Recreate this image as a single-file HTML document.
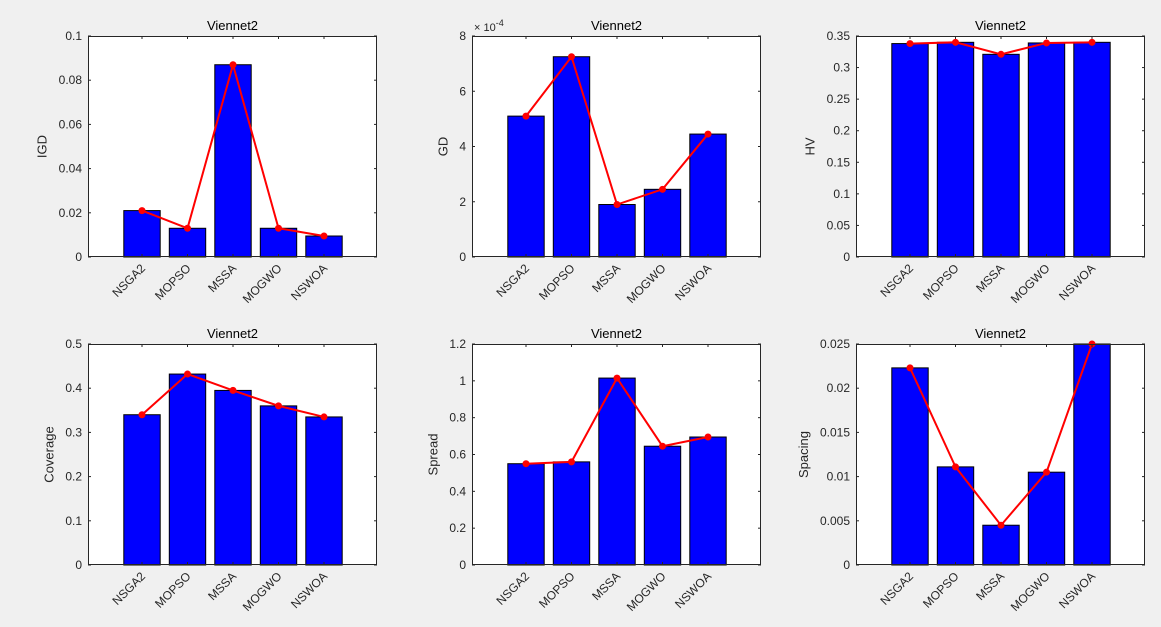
<!DOCTYPE html>
<html><head><meta charset="utf-8"><style>
body{margin:0;background:#f0f0f0;width:1161px;height:627px;overflow:hidden;font-family:"Liberation Sans",Arial,sans-serif}
svg{position:absolute;left:0;top:0}
</style></head><body>
<svg id="chart" width="1161" height="627"></svg>
<script>
const categories=["NSGA2","MOPSO","MSSA","MOGWO","NSWOA"];
const igdValues=[0.021,0.013,0.087,0.013,0.0095];
const gdValues=[5.1,7.25,1.9,2.45,4.45];
const hvValues=[0.338,0.340,0.321,0.339,0.340];
const coverageValues=[0.34,0.432,0.395,0.36,0.335];
const spreadValues=[0.55,0.56,1.015,0.645,0.695];
const spacingValues=[0.0223,0.0111,0.0045,0.0105,0.025];
const igdTicks=["0","0.02","0.04","0.06","0.08","0.1"];
const gdTicks=["0","2","4","6","8"];
const hvTicks=["0","0.05","0.1","0.15","0.2","0.25","0.3","0.35"];
const coverageTicks=["0","0.1","0.2","0.3","0.4","0.5"];
const spreadTicks=["0","0.2","0.4","0.6","0.8","1","1.2"];
const spacingTicks=["0","0.005","0.01","0.015","0.02","0.025"];
const panels=[
 {name:"igd",x:88,y:36,label:"IGD",vals:igdValues,ticks:igdTicks,max:0.1},
 {name:"gd",x:472,y:36,label:"GD",vals:gdValues,ticks:gdTicks,max:8,exp:true},
 {name:"hv",x:856,y:36,label:"HV",vals:hvValues,ticks:hvTicks,max:0.35},
 {name:"coverage",x:88,y:344,label:"Coverage",vals:coverageValues,ticks:coverageTicks,max:0.5},
 {name:"spread",x:472,y:344,label:"Spread",vals:spreadValues,ticks:spreadTicks,max:1.2},
 {name:"spacing",x:856,y:344,label:"Spacing",vals:spacingValues,ticks:spacingTicks,max:0.025}
];
const W=289,H=221,NS="http://www.w3.org/2000/svg";
const svg=document.getElementById('chart');
function mk(tag,attrs,parent,text){const e=document.createElementNS(NS,tag);for(const k in attrs)e.setAttribute(k,attrs[k]);if(text!==undefined)e.textContent=text;parent.appendChild(e);return e;}
panels.forEach(p=>{
 const g=mk('g',{},svg);
 
 
 const bg=mk('rect',{x:p.x,y:p.y,width:W,height:H,fill:'#fff'},g);
 
 
 const xS=i=>p.x+54+i*45.5;
 const yS=v=>p.y+H-v/p.max*H;
 p.vals.forEach((v,i)=>{
  const b=mk('rect',{x:xS(i)-18.2,y:yS(v),width:36.4,height:p.y+H-yS(v),fill:'#0000ff',stroke:'#000','stroke-width':1},g);
  
  
 });
 const ln=mk('polyline',{points:p.vals.map((v,i)=>xS(i)+','+yS(v)).join(' '),fill:'none',stroke:'#ff0000','stroke-width':2},g);
 
 
 p.vals.forEach((v,i)=>{
  const c=mk('circle',{cx:xS(i),cy:yS(v),r:3.5,fill:'#ff0000'},g);
  
  
 });
 const bx=mk('rect',{x:p.x+0.5,y:p.y+0.5,width:W-1,height:H-1,fill:'none',stroke:'#262626','stroke-width':1},g);
 
 
 const n=p.ticks.length-1;
 let maxW=0;
 p.ticks.forEach((t,i)=>{
  const yy=p.y+H-i*H/n;
  mk('line',{x1:p.x,x2:p.x+3,y1:yy,y2:yy,stroke:'#262626'},g);
  mk('line',{x1:p.x+W,x2:p.x+W-3,y1:yy,y2:yy,stroke:'#262626'},g);
  const tl=mk('text',{x:p.x-6,y:yy+4,'text-anchor':'end','font-size':12,fill:'#262626'},g,t);
  
  
  maxW=Math.max(maxW,tl.getComputedTextLength());
 });
 categories.forEach((c,i)=>{
  const xx=xS(i);
  mk('line',{x1:xx,x2:xx,y1:p.y+H,y2:p.y+H-3,stroke:'#262626'},g);
  mk('line',{x1:xx,x2:xx,y1:p.y,y2:p.y+3,stroke:'#262626'},g);
  const tl=mk('text',{x:xx+4,y:p.y+H+12,'text-anchor':'end','font-size':12,fill:'#262626',transform:`rotate(-45 ${xx+4} ${p.y+H+12})`},g,c);
  
  
 });
 const ti=mk('text',{x:p.x+W/2,y:p.y-6,'text-anchor':'middle','font-size':13,fill:'#000'},g,'Viennet2');
 
 
 const lx=p.x-6-maxW-12;
 const yl=mk('text',{x:lx,y:p.y+H/2,'text-anchor':'middle','font-size':13,fill:'#262626',transform:`rotate(-90 ${lx} ${p.y+H/2})`},g,p.label);
 
 
 if(p.exp){
  const ex=mk('text',{x:p.x+2,y:p.y-5,'font-size':11,fill:'#262626'},g);
  
  
  ex.innerHTML='× 10<tspan dy="-5" font-size="9">-4</tspan>';
 }
});
</script>
</body></html>
